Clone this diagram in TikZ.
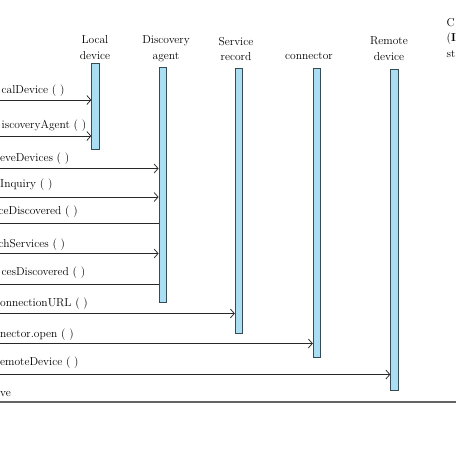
\documentclass[tikz,border=0pt]{standalone}
\usepackage{tikz}
\usetikzlibrary{arrows.meta}

\definecolor{barfill}{RGB}{170,223,243}
\definecolor{bardraw}{RGB}{55,75,85}
\definecolor{msgline}{RGB}{40,40,40}
\definecolor{endline}{RGB}{100,100,100}

\begin{document}
\begin{tikzpicture}[x=1pt, y=-1pt,
   every node/.style={font=\fontsize{11.5}{15.5}\selectfont, text=black},
   lifebar/.style={draw=bardraw, fill=barfill, line width=0.8pt, minimum width=7.5pt, inner sep=0pt},
   head/.style={align=center, inner sep=0pt},
   lbl/.style={anchor=west, inner sep=0pt},
   msg/.style={draw=msgline, line width=0.75pt, -{Straight Barb[length=4pt, width=9pt]}},
   ret/.style={draw=msgline, line width=0.75pt}]

   \useasboundingbox (0,0) rectangle (456,456);

   % 見出し
   \node [head] (local) at (95,47.5) {Local\\device};
   \node [head] (agent) at (166,48.5) {Discovery\\agent};
   \node [head] (record) at (236,49) {Service\\record};
   \node [head] (conn) at (309,56.5) {connector};
   \node [head] (remote) at (389,48.5) {Remote\\device};
   \node [head, anchor=north west, align=left] (stream) at (446.5,18) {C\\(\textbf{I}\\st};

   % ライフライン
   \node [lifebar, minimum height=86pt] (localbar) at (95.5,106) {};
   \node [lifebar, minimum height=234.5pt] (agentbar) at (162.75,184.75) {};
   \node [lifebar, minimum height=265pt] (recordbar) at (239,200.5) {};
   \node [lifebar, minimum height=289pt] (connbar) at (317,212.5) {};
   \node [lifebar, minimum height=321pt] (remotebar) at (394.5,229.5) {};

   % メッセージ
   \coordinate (m1) at (-5,100);
   \draw [msg] (m1) -- (m1 -| localbar.west);
   \node [lbl] (t1) at (1.5,91) {calDevice ( )};

   \coordinate (m2) at (-5,136);
   \draw [msg] (m2) -- (m2 -| localbar.west);
   \node [lbl] (t2) at (1.5,126) {iscoveryAgent ( )};

   \coordinate (m3) at (-5,168.5);
   \draw [msg] (m3) -- (m3 -| agentbar.west);
   \node [lbl] (t3) at (0,159) {eveDevices ( )};

   \coordinate (m4) at (-5,197);
   \draw [msg] (m4) -- (m4 -| agentbar.west);
   \node [lbl] (t4) at (0,185) {Inquiry ( )};

   \coordinate (m5) at (-5,223.5);
   \draw [ret] (m5) -- (m5 -| agentbar.west);
   \node [lbl] (t5) at (-1.5,212) {ceDiscovered ( )};

   \coordinate (m6) at (-5,253.5);
   \draw [msg] (m6) -- (m6 -| agentbar.west);
   \node [lbl] (t6) at (-1.5,244.5) {chServices ( )};

   \coordinate (m7) at (-5,284);
   \draw [ret] (m7) -- (m7 -| agentbar.west);
   \node [lbl] (t7) at (1.5,273) {cesDiscovered ( )};

   \coordinate (m8) at (-5,313.5);
   \draw [msg] (m8) -- (m8 -| recordbar.west);
   \node [lbl] (t8) at (0,303.5) {onnectionURL ( )};

   \coordinate (m9) at (-5,343.5);
   \draw [msg] (m9) -- (m9 -| connbar.west);
   \node [lbl] (t9) at (0,335) {nector.open ( )};

   \coordinate (m10) at (-5,374.5);
   \draw [msg] (m10) -- (m10 -| remotebar.west);
   \node [lbl] (t10) at (0,363) {emoteDevice ( )};

   % 終了
   \coordinate (m11) at (-5,402);
   \coordinate (m11end) at (470,402);
   \draw [draw=endline, line width=1.1pt] (m11) -- (m11end);
   \node [lbl] (t11) at (0,393.5) {ve};

\end{tikzpicture}
\end{document}
